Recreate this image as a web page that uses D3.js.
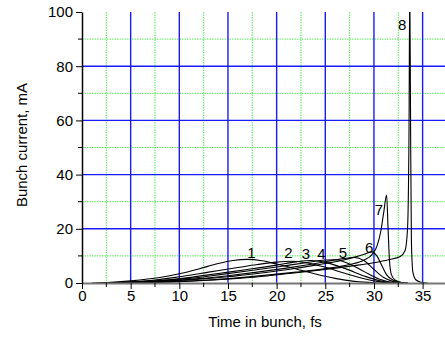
<html>
<head>
<style>
body { margin: 0; background: #fff; }
svg { font-family: Arial, "Liberation Sans", sans-serif; }
.grid-major line { stroke: #1a1aff; stroke-width: 1.4; }
.grid-minor line { stroke: #55ee55; stroke-width: 1; stroke-dasharray: 1.5,1; }
.curve { fill: none; stroke: #000; stroke-width: 1.1; }
</style>
</head>
<script src="https://d3js.org/d3.v7.min.js"></script>
<body>
<div id="chart"></div>
<script>

// bunch current profiles, [time fs, current mA]
var curve1 = [[1,0],[3,0.3],[5,0.8],[8,2],[10,3.4],[12,5.2],[14,7.2],[15.5,8.3],[17,8.7],[18.5,8.2],[20,7],[22,5.2],[24,3.3],[26,1.7],[28,0.6],[30,0.1],[31,0]];
var curve2 = [[1.5,0],[4,0.3],[7,0.9],[10,2.3],[13,4],[16,5.7],[18,6.8],[20,7.7],[21.5,8],[23,7.5],[25,5.8],[27,3.6],[29,1.6],[30.5,0.5],[31.5,0]];
var curve3 = [[2,0],[5,0.3],[8,0.9],[11,2],[14,3.5],[17,5],[20,6.6],[22,7.8],[23.5,8.3],[25,7.6],[27,5.4],[29,2.6],[30.5,0.9],[32,0]];
var curve4 = [[2.5,0],[5,0.3],[8,0.8],[11,1.7],[14,3],[17,4.4],[20,5.9],[23,7.5],[25,8.5],[26,8.6],[27.5,7],[29,4.2],[30.5,1.5],[32,0.2],[32.5,0]];
var curve5 = [[3,0],[6,0.3],[9,0.8],[12,1.6],[15,2.7],[18,4],[21,5.5],[24,7.2],[26.5,8.8],[28,9.4],[29,8.2],[30,5],[31,2],[32,0.5],[33,0]];
var curve6 = [[3.5,0],[6,0.3],[9,0.7],[12,1.4],[15,2.3],[18,3.5],[21,4.9],[24,6.6],[27,8.6],[29,10.6],[29.8,11.5],[30.3,10],[30.8,6.5],[31.3,3],[32,1],[33,0.1],[33.5,0]];
var curve7 = [[4,0],[7,0.3],[10,0.6],[13,1.1],[16,1.9],[19,2.9],[22,4],[25,5.3],[27.5,6.8],[29,8.5],[29.8,10.5],[30.3,13.5],[30.7,19],[31,26],[31.3,32.5],[31.45,20],[31.6,8],[31.8,3],[32.2,1],[32.8,0.2],[33.5,0]];
var curve8 = [[4.5,0],[7,0.2],[10,0.5],[13,1],[16,1.7],[19,2.6],[22,3.8],[25,5],[28,6.4],[30,7.5],[31.5,8.6],[32.7,9.8],[33.2,12],[33.45,20],[33.6,55],[33.68,110],[33.76,60],[33.85,15],[34,4],[34.3,1.2],[34.8,0.3],[35.5,0]];
var curves = [curve1, curve2, curve3, curve4, curve5, curve6, curve7, curve8];

// curve number labels, [time, current, text]
var curveLabels = [[17.4,9.2,"1"],[21.2,9.2,"2"],[23.0,8.9,"3"],[24.6,8.9,"4"],[26.8,9.2,"5"],[29.5,11.1,"6"],[30.5,25.1,"7"],[32.9,93.4,"8"]];

var xMajor = [0,5,10,15,20,25,30,35];
var xMinor = [2.5,7.5,12.5,17.5,22.5,27.5,32.5];
var yMajor = [0,20,40,60,80,100];
var yMinor = [10,30,50,70,90];

var W = 445, H = 338;
var margin = {top: 12, right: 0, bottom: 55, left: 82};
var width = W - margin.left - margin.right,
    height = H - margin.top - margin.bottom;

var x = d3.scaleLinear().domain([0, 37.3]).range([0, width]);
var y = d3.scaleLinear().domain([0, 100]).range([height, 0]);

var svg = d3.select("#chart").append("svg")
    .attr("width", W)
    .attr("height", H)
  .append("g")
    .attr("transform", "translate(" + margin.left + "," + margin.top + ")");

svg.append("clipPath").attr("id", "clip")
  .append("rect").attr("width", width).attr("height", height);

// minor grid (green dotted)
var gmin = svg.append("g").attr("class", "grid-minor");
gmin.selectAll(".vx").data(xMinor).enter().append("line")
    .attr("x1", function(d) { return x(d); }).attr("x2", function(d) { return x(d); })
    .attr("y1", 0).attr("y2", height);
gmin.selectAll(".hy").data(yMinor).enter().append("line")
    .attr("x1", 0).attr("x2", width)
    .attr("y1", function(d) { return y(d); }).attr("y2", function(d) { return y(d); });

// major grid (blue)
var gmaj = svg.append("g").attr("class", "grid-major");
gmaj.selectAll(".vx").data(xMajor.filter(function(d) { return d > 0; })).enter().append("line")
    .attr("x1", function(d) { return x(d); }).attr("x2", function(d) { return x(d); })
    .attr("y1", 0).attr("y2", height);
gmaj.selectAll(".hy").data(yMajor.filter(function(d) { return d > 0 && d < 100; })).enter().append("line")
    .attr("x1", 0).attr("x2", width)
    .attr("y1", function(d) { return y(d); }).attr("y2", function(d) { return y(d); });

// curves
var line = d3.line()
    .x(function(d) { return x(d[0]); })
    .y(function(d) { return y(d[1]); })
    .curve(d3.curveMonotoneX);

svg.append("g").attr("clip-path", "url(#clip)")
  .selectAll("path").data(curves).enter().append("path")
    .attr("class", "curve")
    .attr("d", line);

// x axis
var xAxis = svg.append("g")
    .attr("transform", "translate(0," + height + ")")
    .call(d3.axisBottom(x).tickValues(xMajor).tickSize(6).tickSizeOuter(0).tickFormat(d3.format("d")));
xAxis.select(".domain").attr("stroke", "#777").attr("stroke-width", 2);
xAxis.selectAll(".tick line").attr("stroke", "#000");
xAxis.selectAll(".tick text").attr("font-size", 15).attr("fill", "#000").attr("dy", "0.95em").attr("y", 4);
xAxis.selectAll(".minor").data(xMinor).enter().append("line")
    .attr("class", "minor")
    .attr("x1", function(d) { return x(d); }).attr("x2", function(d) { return x(d); })
    .attr("y1", 0).attr("y2", 4).attr("stroke", "#000");

// y axis
var yAxis = svg.append("g")
    .call(d3.axisLeft(y).tickValues(yMajor).tickSize(6).tickSizeOuter(0).tickFormat(d3.format("d")));
yAxis.select(".domain").attr("stroke", "#000").attr("stroke-width", 1.5);
yAxis.selectAll(".tick line").attr("stroke", "#000");
yAxis.selectAll(".tick text").attr("font-size", 15).attr("fill", "#000").attr("x", -9);
yAxis.selectAll(".minor").data(yMinor).enter().append("line")
    .attr("class", "minor")
    .attr("x1", -4).attr("x2", 0)
    .attr("y1", function(d) { return y(d); }).attr("y2", function(d) { return y(d); })
    .attr("stroke", "#000");

// curve labels
svg.selectAll(".clabel").data(curveLabels).enter().append("text")
    .attr("class", "clabel")
    .attr("x", function(d) { return x(d[0]); })
    .attr("y", function(d) { return y(d[1]); })
    .attr("text-anchor", "middle")
    .attr("font-size", 15)
    .text(function(d) { return d[2]; });

// axis titles
svg.append("text")
    .attr("x", 265 - margin.left)
    .attr("y", 327 - margin.top)
    .attr("text-anchor", "middle")
    .attr("font-size", 15)
    .text("Time in bunch, fs");

svg.append("text")
    .attr("transform", "translate(" + (27 - margin.left) + "," + (145 - margin.top) + ") rotate(-90)")
    .attr("text-anchor", "middle")
    .attr("font-size", 15)
    .text("Bunch current, mA");

</script>
</body>
</html>
